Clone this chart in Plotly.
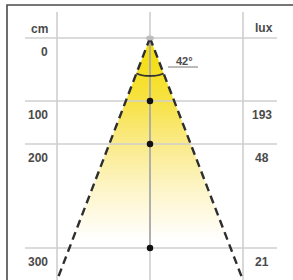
import math
import plotly.graph_objects as go

# ---- data ----
distance_cm = [0, 100, 200, 300]
lux_values = [None, 193, 48, 21]
beam_angle_deg = 42

# ---- layout (diagram coordinates, y grows downward) ----
row_y = [38, 101, 144, 248]        # where each distance row sits in the drawing
apex_x, apex_y = 150, 38
col_x = [57, 150, 243]
bottom_y = 282
half = math.radians(beam_angle_deg / 2)

def cone_x(y, side):
    return apex_x + side * math.tan(half) * (y - apex_y)

fig = go.Figure()

# light cone fill with vertical gradient
fig.add_trace(go.Scatter(
    x=[apex_x, cone_x(bottom_y, -1), cone_x(bottom_y, 1), apex_x],
    y=[apex_y, bottom_y, bottom_y, apex_y],
    mode="lines", line=dict(width=0), fill="toself",
    fillgradient=dict(type="vertical", start=apex_y, stop=240,
                      colorscale=[[0, "#F4DC00"], [0.3, "#F7E240"], [0.52, "#FAEA88"],
                                  [0.75, "#FDF5C8"], [1, "#FFFFFF"]]),
    hoverinfo="skip", showlegend=False))

grid = dict(color="#cfcfcf", width=1.6)
gx, gy = [], []
for y in row_y:
    gx += [25, 277, None]
    gy += [y, y, None]
for x in col_x:
    gx += [x, x, None]
    gy += [12, bottom_y, None]
fig.add_trace(go.Scatter(x=gx, y=gy, mode="lines", line=grid,
                         hoverinfo="skip", showlegend=False))
# centre axis inside the beam
fig.add_trace(go.Scatter(x=[apex_x, apex_x], y=[apex_y, row_y[-1]], mode="lines",
                         line=dict(color="#9a9a9a", width=1.3),
                         hoverinfo="skip", showlegend=False))

shapes = []
# frame
shapes.append(dict(type="path", path="M 7,290 L 7,5 L 295,5",
                   line=dict(color="#4a4a4a", width=1.6), layer="above"))
# lamp
shapes.append(dict(type="circle", x0=apex_x - 4, x1=apex_x + 4, y0=apex_y - 2.5, y1=apex_y + 2.5,
                   fillcolor="#bdbdbd", line=dict(width=0), layer="above"))
# angle arc
r = 38
n = 20
pts = []
for i in range(n + 1):
    a = -half + 2 * half * i / n
    pts.append((apex_x + r * math.sin(a), apex_y + r * math.cos(a)))
path = "M " + " L ".join(f"{px:.2f},{py:.2f}" for px, py in pts)
shapes.append(dict(type="path", path=path, line=dict(color="#333333", width=1.8), layer="above"))
# underline of angle label
shapes.append(dict(type="line", x0=168, x1=198, y0=67, y1=67,
                   line=dict(color="#777777", width=1), layer="above"))

# dashed beam edges
for side in (-1, 1):
    fig.add_trace(go.Scatter(
        x=[apex_x, cone_x(bottom_y, side)], y=[apex_y, bottom_y],
        mode="lines", line=dict(color="#2e2e2e", width=2.4, dash="8px,5px"),
        hoverinfo="skip", showlegend=False))

# measurement dots
fig.add_trace(go.Scatter(
    x=[apex_x] * 3, y=row_y[1:], mode="markers",
    marker=dict(color="#111111", size=6.5), hoverinfo="skip", showlegend=False))

font = dict(family="Liberation Sans, Arial", size=12, color="#4a4a4a", weight="bold")
ann = []
ann.append(dict(x=50, y=29, text="cm", xanchor="right", yanchor="middle"))
ann.append(dict(x=264, y=28, text="lux", xanchor="center", yanchor="middle"))
for d, lx, y in zip(distance_cm, lux_values, row_y):
    ann.append(dict(x=50, y=y + 14, text=str(d), xanchor="right", yanchor="middle"))
    if lx is not None:
        ann.append(dict(x=262, y=y + 14, text=str(lx), xanchor="center", yanchor="middle"))
ann.append(dict(x=184, y=61, text=f"{beam_angle_deg}°", xanchor="center", yanchor="middle",
                font=dict(family="Liberation Sans, Arial", size=11, color="#4a4a4a", weight="bold")))
for a in ann:
    a.update(xref="x", yref="y", showarrow=False)
    if "font" not in a:
        a["font"] = font

fig.update_layout(
    width=293, height=280, margin=dict(l=0, r=0, t=0, b=0),
    paper_bgcolor="white", plot_bgcolor="white",
    xaxis=dict(range=[0, 293], visible=False, fixedrange=True),
    yaxis=dict(range=[280, 0], visible=False, fixedrange=True),
    shapes=shapes, annotations=ann, showlegend=False, hovermode=False)

fig.write_html("out.html", config={"displayModeBar": False},
               post_script="document.body.style.margin='0px';document.body.style.overflow='hidden';")
